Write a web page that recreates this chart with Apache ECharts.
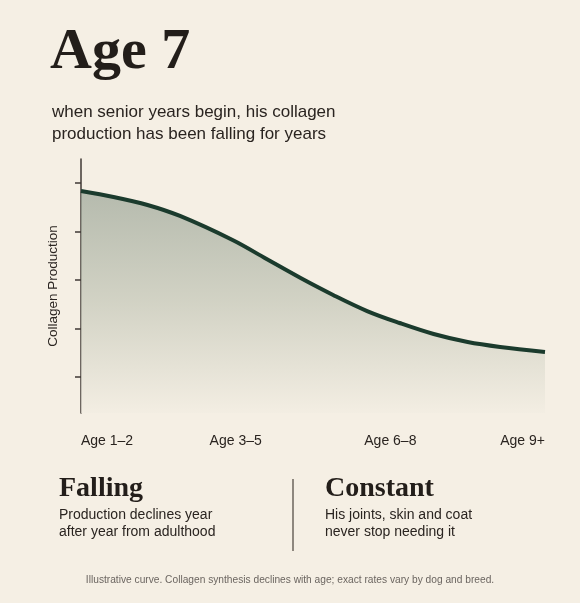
<!DOCTYPE html>
<html>
<head>
<meta charset="utf-8">
<title>Age 7 collagen</title>
<script src="https://cdn.jsdelivr.net/npm/echarts@6/dist/echarts.min.js"></script>
<style>
  html, body { margin: 0; padding: 0; background: #f5efe4; }
  #chart { width: 580px; height: 603px; }
</style>
</head>
<body>
<div id="chart"></div>
<script>
// age bands on the x axis (positions 0..3)
var ageLabels = ["Age 1–2", "Age 3–5", "Age 6–8", "Age 9+"];
// curve: x in age-band steps, y in axis units (0..21)
var curveX = [0, 0.21, 0.43, 0.64, 0.98, 1.2, 1.42, 1.63, 1.85, 2.06, 2.28, 2.5, 2.71, 3];
var curveY = [18.35, 17.86, 17.2, 16.29, 14.3, 12.73, 11.16, 9.76, 8.43, 7.44, 6.53, 5.87, 5.46, 5.04];
var yTicks = [3, 7, 11, 15, 19];

var sans = '"Liberation Sans", Arial, Helvetica, sans-serif';
var serif = '"Liberation Serif", "Times New Roman", serif';
var ink = "#2a2420";

var chart = echarts.init(document.getElementById("chart"));

var points = [];
for (var i = 0; i < curveX.length; i++) {
  points.push([curveX[i], curveY[i]]);
}

var option = {
  backgroundColor: "#f5efe4",
  animation: false,
  grid: { left: 81, right: 35, top: 159, bottom: 190 },
  xAxis: {
    type: "value",
    min: 0,
    max: 3,
    interval: 1,
    axisLine: { show: false },
    axisTick: { show: false },
    splitLine: { show: false },
    axisLabel: {
      margin: 21,
      fontSize: 14,
      fontFamily: sans,
      color: ink,
      alignMinLabel: "left",
      alignMaxLabel: "right",
      formatter: function (v) { return ageLabels[Math.round(v)]; }
    }
  },
  yAxis: {
    type: "value",
    min: 0,
    max: 21,
    name: "Collagen Production",
    nameLocation: "middle",
    nameGap: 21,
    nameTextStyle: { fontSize: 13.5, fontFamily: sans, color: ink },
    axisLine: { show: true, lineStyle: { color: "#3f3934", width: 1.5 } },
    axisTick: { show: true, length: 6, customValues: yTicks, lineStyle: { color: "#3f3934", width: 1.5 } },
    axisLabel: { show: false },
    splitLine: { show: false }
  },
  series: [{
    type: "line",
    data: points,
    smooth: 0.35,
    showSymbol: false,
    lineStyle: { color: "#1b3b2d", width: 4 },
    areaStyle: {
      color: new echarts.graphic.LinearGradient(0, 0, 0, 1, [
        { offset: 0, color: "#9aa496" },
        { offset: 0.5, color: "#c3c6b7" },
        { offset: 1, color: "#f2ede2" }
      ])
    }
  }],
  graphic: [
    { type: "text", style: { x: 50, y: 53, text: "Age 7", font: "bold 58px " + serif, fill: "#231e1a", verticalAlign: "middle" } },
    { type: "text", style: { x: 52, y: 101, text: "when senior years begin, his collagen\nproduction has been falling for years", font: "17px " + sans, lineHeight: 22.5, fill: ink, verticalAlign: "top" } },
    { type: "text", style: { x: 59, y: 489, text: "Falling", font: "bold 28px " + serif, fill: "#231e1a", verticalAlign: "middle" } },
    { type: "text", style: { x: 59, y: 507, text: "Production declines year\nafter year from adulthood", font: "14px " + sans, lineHeight: 17, fill: ink, verticalAlign: "top" } },
    { type: "line", shape: { x1: 293, y1: 479, x2: 293, y2: 551 }, style: { stroke: "#6b645c", lineWidth: 1.5 } },
    { type: "text", style: { x: 325, y: 489, text: "Constant", font: "bold 28px " + serif, fill: "#231e1a", verticalAlign: "middle" } },
    { type: "text", style: { x: 325, y: 507, text: "His joints, skin and coat\nnever stop needing it", font: "14px " + sans, lineHeight: 17, fill: ink, verticalAlign: "top" } },
    { type: "text", style: { x: 290, y: 580, text: "Illustrative curve. Collagen synthesis declines with age; exact rates vary by dog and breed.", font: "10.2px " + sans, fill: "#6b6560", align: "center", verticalAlign: "middle" } }
  ]
};

chart.setOption(option);
</script>
</body>
</html>
